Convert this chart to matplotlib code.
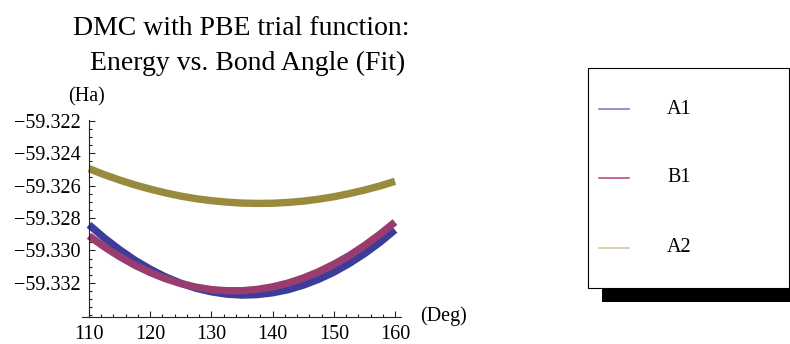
import matplotlib
matplotlib.use("Agg")
import matplotlib.pyplot as plt
from matplotlib.patches import Rectangle
from matplotlib.lines import Line2D
from matplotlib.ticker import MultipleLocator, FixedLocator, FixedFormatter

# Bond angle grid (degrees) and DMC fitted energies (Hartree)
angles = [110, 112.5, 115, 117.5, 120, 122.5, 125, 127.5, 130, 132.5, 135,
          137.5, 140, 142.5, 145, 147.5, 150, 152.5, 155, 157.5, 160]

energy_a1 = [-59.32842, -59.32923, -59.32995, -59.33060, -59.33115, -59.33163,
             -59.33202, -59.33233, -59.33255, -59.33269, -59.33275, -59.33272,
             -59.33261, -59.33242, -59.33214, -59.33178, -59.33134, -59.33081,
             -59.33020, -59.32951, -59.32873]

energy_b1 = [-59.32910, -59.32978, -59.33038, -59.33091, -59.33136, -59.33174,
             -59.33204, -59.33226, -59.33241, -59.33248, -59.33248, -59.33240,
             -59.33224, -59.33201, -59.33170, -59.33131, -59.33085, -59.33032,
             -59.32970, -59.32901, -59.32825]

energy_a2 = [-59.32496, -59.32533, -59.32566, -59.32596, -59.32622, -59.32645,
             -59.32665, -59.32681, -59.32693, -59.32702, -59.32708, -59.32710,
             -59.32709, -59.32704, -59.32696, -59.32684, -59.32669, -59.32650,
             -59.32628, -59.32603, -59.32574]

series_names = ["A1", "B1", "A2"]
series_colors = ["#3d3d99", "#993d71", "#998a3d"]
legend_colors = ["#7272c0", "#b0407e", "#d2c391"]

x_ticks = [110, 120, 130, 140, 150, 160]
x_tick_labels = ["110", "120", "130", "140", "150", "160"]
y_ticks = [-59.322, -59.324, -59.326, -59.328, -59.330, -59.332]
y_tick_labels = ["\u221259.322", "\u221259.324", "\u221259.326",
                 "\u221259.328", "\u221259.330", "\u221259.332"]

W, H = 790, 344
SERIF = ["Liberation Serif", "DejaVu Serif"]

fig = plt.figure(figsize=(W / 100, H / 100), dpi=100)
fig.patch.set_facecolor("white")


def fx(x):
    return x / W


def fy(y):
    return 1 - y / H


ax = fig.add_axes([fx(82), fy(317), fx(401) - fx(82), fy(120) - fy(317)])
ax.set_facecolor("white")

for ys, c in zip([energy_a1, energy_b1, energy_a2], series_colors):
    ax.plot(angles, ys, color=c, lw=5.3, solid_capstyle="butt",
            solid_joinstyle="round")

ax.set_xlim(108.856, 160.98)
ax.set_ylim(-59.3341, -59.32196)

for s in ("top", "right"):
    ax.spines[s].set_visible(False)
ax.spines["left"].set_position(("data", 110))
for s in ("left", "bottom"):
    ax.spines[s].set_linewidth(0.8)
    ax.spines[s].set_color("#222222")

ax.xaxis.set_major_locator(FixedLocator(x_ticks))
ax.xaxis.set_major_formatter(FixedFormatter(x_tick_labels))
ax.xaxis.set_minor_locator(MultipleLocator(2))
ax.yaxis.set_major_locator(FixedLocator(y_ticks))
ax.yaxis.set_major_formatter(FixedFormatter(y_tick_labels))
ax.yaxis.set_minor_locator(MultipleLocator(0.0005))

ax.tick_params(which="both", direction="in", color="#222222", width=0.8)
ax.tick_params(which="major", length=4)
ax.tick_params(which="minor", length=2)
ax.tick_params(axis="y", which="major", pad=6)
ax.tick_params(axis="x", which="major", pad=6)
for lab in ax.get_xticklabels() + ax.get_yticklabels():
    lab.set_fontfamily(SERIF)
    lab.set_fontsize(14.5)

# Axis labels in Mathematica style at the ends of the axes
fig.text(fx(68), fy(97), "(Ha)", family=SERIF, fontsize=14.5,
         ha="left", va="center")
fig.text(fx(420), fy(316), "(Deg)", family=SERIF, fontsize=14.5,
         ha="left", va="center")

# Two-line title
fig.text(fx(241.5), fy(35), "DMC with PBE trial function:", family=SERIF,
         fontsize=20, ha="center", va="baseline")
fig.text(fx(247.5), fy(70), "Energy vs. Bond Angle (Fit)", family=SERIF,
         fontsize=20, ha="center", va="baseline")

# Legend box with drop shadow
shadow = Rectangle((fx(602), fy(302)), fx(820) - fx(602), fy(82) - fy(302),
                   transform=fig.transFigure, facecolor="black",
                   edgecolor="none", zorder=5)
box = Rectangle((fx(588), fy(288)), fx(789) - fx(588), fy(68) - fy(288),
                transform=fig.transFigure, facecolor="white",
                edgecolor="black", lw=0.8, zorder=6)
fig.patches.extend([shadow, box])

legend_rows = [109, 178, 248]
for name, c, yy in zip(series_names, legend_colors, legend_rows):
    fig.lines.append(Line2D([fx(599), fx(629)], [fy(yy), fy(yy)],
                            transform=fig.transFigure, color=c, lw=1.1,
                            zorder=7))
    fig.text(fx(667), fy(yy), name, family=SERIF, fontsize=14.5,
             ha="left", va="center", zorder=7)

fig.savefig("out.png", dpi=100)
